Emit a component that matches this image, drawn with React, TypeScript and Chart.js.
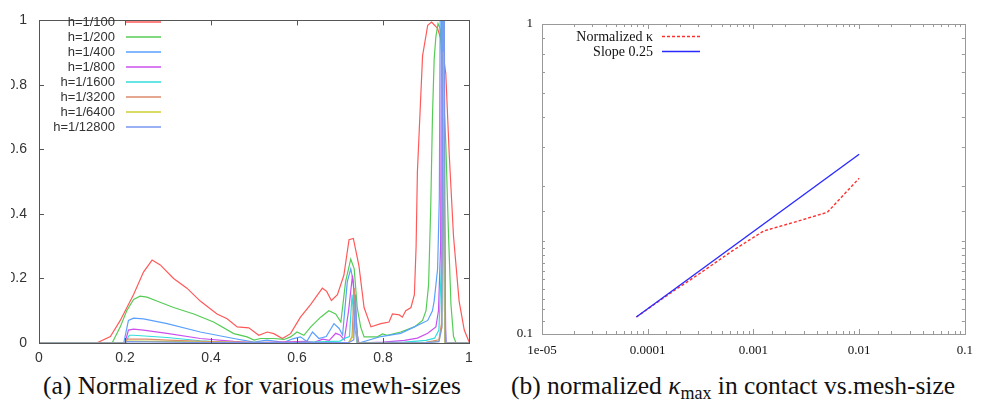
import React, { useEffect, useRef } from "react";
import { Chart, registerables } from "chart.js";
Chart.register(...registerables);

// ---------- Left chart data (normalized kappa along contact, various mesh sizes) ----------
const meshLabels = ["h=1/100", "h=1/200", "h=1/400", "h=1/800", "h=1/1600", "h=1/3200", "h=1/6400", "h=1/12800"];
const meshColors = ["#ff5a5a", "#55cc55", "#5aa0ff", "#cc50ee", "#33dddd", "#dd8a6a", "#cccc33", "#7a96f0"];
const leftTicks = [0, 0.2, 0.4, 0.6, 0.8, 1];

const h100X = [0, 0.134, 0.166, 0.189, 0.22, 0.243, 0.263, 0.282, 0.313, 0.344, 0.375, 0.414, 0.4375, 0.461, 0.488, 0.511, 0.531, 0.546, 0.566, 0.585, 0.608, 0.632, 0.659, 0.669, 0.68, 0.694, 0.709, 0.721, 0.731, 0.744, 0.756, 0.772, 0.795, 0.814, 0.822, 0.838, 0.845, 0.853, 0.865, 0.873, 0.877, 0.88, 0.892, 0.904, 0.913, 0.92, 0.927, 0.935, 0.946, 0.954, 0.964, 0.977, 0.989, 1.0];
const h100Y = [0, 0, 0.02, 0.07, 0.15, 0.22, 0.257, 0.242, 0.2, 0.17, 0.13, 0.09, 0.075, 0.05, 0.047, 0.024, 0.034, 0.029, 0.014, 0.029, 0.08, 0.12, 0.17, 0.16, 0.132, 0.15, 0.21, 0.32, 0.324, 0.24, 0.11, 0.05, 0.06, 0.065, 0.09, 0.087, 0.08, 0.1, 0.11, 0.15, 0.3, 0.53, 0.89, 0.985, 0.995, 0.985, 0.975, 0.94, 0.836, 0.585, 0.33, 0.13, 0.04, 0.004];

const h200X = [0, 0.17, 0.189, 0.204, 0.22, 0.235, 0.251, 0.274, 0.313, 0.36, 0.406, 0.453, 0.484, 0.5, 0.515, 0.546, 0.57, 0.585, 0.6, 0.616, 0.632, 0.655, 0.674, 0.69, 0.702, 0.713, 0.725, 0.733, 0.74, 0.748, 0.756, 0.787, 0.799, 0.81, 0.841, 0.873, 0.892, 0.9, 0.906, 0.911, 0.915, 0.919, 0.923, 0.928, 0.933, 0.94, 0.946, 0.952, 0.958, 0.964, 0.97, 1.0];
const h200Y = [0, 0, 0.05, 0.1, 0.135, 0.145, 0.142, 0.13, 0.11, 0.09, 0.065, 0.029, 0.019, 0.009, 0.014, 0.014, 0.011, 0.019, 0.034, 0.024, 0.05, 0.08, 0.1, 0.09, 0.065, 0.19, 0.26, 0.23, 0.11, 0.05, 0.019, 0.019, 0.028, 0.024, 0.034, 0.05, 0.07, 0.1, 0.18, 0.42, 0.7, 0.88, 0.95, 0.99, 0.975, 0.8, 0.62, 0.35, 0.12, 0.02, 0, 0];

const h400X = [0, 0.197, 0.208, 0.22, 0.243, 0.298, 0.375, 0.453, 0.5, 0.53, 0.57, 0.59, 0.608, 0.623, 0.636, 0.651, 0.668, 0.686, 0.698, 0.706, 0.717, 0.725, 0.731, 0.737, 0.744, 0.795, 0.841, 0.873, 0.904, 0.915, 0.919, 0.927, 0.931, 0.934, 0.937, 0.94, 0.943, 0.947, 1.0];
const h400Y = [0, 0, 0.07, 0.077, 0.075, 0.06, 0.034, 0.014, 0.003, 0.009, 0.002, 0.013, 0.019, 0.005, 0.034, 0.014, 0.02, 0.06, 0.045, 0.025, 0.19, 0.23, 0.19, 0.05, 0, 0.02, 0.03, 0.05, 0.07, 0.1, 0.13, 0.23, 0.45, 1.3, 1.3, 0.5, 0.1, 0, 0];

const h800X = [0, 0.2, 0.208, 0.22, 0.243, 0.298, 0.375, 0.453, 0.5, 0.6, 0.62, 0.64, 0.66, 0.675, 0.69, 0.7, 0.71, 0.72, 0.729, 0.735, 0.742, 0.8, 0.85, 0.88, 0.904, 0.923, 0.929, 0.934, 0.937, 0.94, 0.943, 0.946, 1.0];
const h800Y = [0, 0, 0.04, 0.043, 0.04, 0.03, 0.014, 0.005, 0.001, 0.004, 0.005, 0.002, 0.012, 0.008, 0.03, 0.025, 0.01, 0.1, 0.21, 0.12, 0, 0.003, 0.008, 0.015, 0.03, 0.05, 0.1, 0.3, 1.2, 1.2, 0.4, 0, 0];

const h1600X = [0, 0.2, 0.21, 0.22, 0.298, 0.375, 0.453, 0.6, 0.7, 0.712, 0.722, 0.728, 0.734, 0.74, 0.85, 0.9, 0.92, 0.93, 0.936, 0.938, 0.941, 0.944, 1.0];
const h1600Y = [0, 0, 0.024, 0.024, 0.017, 0.007, 0.001, 0.001, 0.006, 0.015, 0.02, 0.15, 0.05, 0, 0.003, 0.008, 0.015, 0.04, 0.25, 1.2, 1.2, 0, 0];

const h3200X = [0, 0.2, 0.205, 0.25, 0.3, 0.4, 0.5, 0.72, 0.728, 0.733, 0.738, 0.742, 0.9, 0.93, 0.936, 0.938, 0.941, 0.944, 1.0];
const h3200Y = [0, 0, 0.012, 0.012, 0.009, 0.004, 0.001, 0.001, 0.02, 0.17, 0.05, 0, 0.002, 0.01, 0.06, 0.7, 0.7, 0, 0];

const h6400X = [0, 0.2, 0.205, 0.3, 0.4, 0.72, 0.73, 0.735, 0.74, 0.9, 0.93, 0.937, 0.939, 0.941, 0.944, 1.0];
const h6400Y = [0, 0, 0.006, 0.005, 0.002, 0.001, 0.02, 0.12, 0, 0.001, 0.005, 0.05, 0.9, 0.9, 0, 0];

const h12800X = [0, 0.2, 0.205, 0.3, 0.4, 0.72, 0.732, 0.736, 0.74, 0.9, 0.93, 0.937, 0.94, 0.942, 0.945, 1.0];
const h12800Y = [0, 0, 0.004, 0.003, 0.001, 0.001, 0.01, 0.15, 0, 0.001, 0.004, 0.05, 1.3, 1.3, 0, 0];

const meshXs = [h100X, h200X, h400X, h800X, h1600X, h3200X, h6400X, h12800X];
const meshYs = [h100Y, h200Y, h400Y, h800Y, h1600Y, h3200Y, h6400Y, h12800Y];

// ---------- Right chart data (max normalized kappa vs mesh size) ----------
const meshSizes = [1 / 12800, 1 / 6400, 1 / 3200, 1 / 1600, 1 / 800, 1 / 400, 1 / 200, 1 / 100];
const kappaMax = [0.1135, 0.134, 0.157, 0.185, 0.215, 0.23, 0.247, 0.318];
const slopeX = [1 / 12800, 1 / 100];
const slopeY = [0.1135, 0.38];
const rightLegend = ["Normalized \u03ba", "Slope 0.25"];

const SERIF = "'Liberation Serif', 'Times New Roman', Times, serif";
const SANS = "'Liberation Sans', Arial, Helvetica, sans-serif";

const logLabel = (v: number): string => {
  const l = Math.log10(v);
  if (Math.abs(l - Math.round(l)) > 1e-6) return "";
  const r = Math.round(l);
  const map: Record<number, string> = { [-5]: "1e-05", [-4]: "0.0001", [-3]: "0.001", [-2]: "0.01", [-1]: "0.1", [0]: "1" };
  return map[r] ?? "";
};

const linLabel = (v: number): string => {
  const r = Math.round(v * 10) / 10;
  return leftTicks.some((t) => Math.abs(t - r) < 1e-9) ? String(r) : "";
};

function framePlugin(color: string, majorLen: number, minorLen: number, isLog: boolean) {
  return {
    id: "frameTicks",
    afterDatasetsDraw(chart: any) {
      const { ctx, chartArea: a, scales } = chart;
      ctx.save();
      ctx.strokeStyle = color;
      ctx.lineWidth = 1;
      ctx.beginPath();
      const xs = scales.x, ys = scales.y;
      for (const t of xs.ticks) {
        const major = !isLog || logLabel(t.value) !== "";
        const len = major ? majorLen : minorLen;
        const px = Math.round(xs.getPixelForValue(t.value)) + 0.5;
        ctx.moveTo(px, a.bottom); ctx.lineTo(px, a.bottom - len);
        ctx.moveTo(px, a.top); ctx.lineTo(px, a.top + len);
      }
      for (const t of ys.ticks) {
        const major = !isLog || logLabel(t.value) !== "";
        const len = major ? majorLen : minorLen;
        const py = Math.round(ys.getPixelForValue(t.value)) + 0.5;
        ctx.moveTo(a.left, py); ctx.lineTo(a.left + len, py);
        ctx.moveTo(a.right, py); ctx.lineTo(a.right - len, py);
      }
      ctx.stroke();
      ctx.strokeRect(Math.round(a.left) + 0.5, Math.round(a.top) + 0.5, Math.round(a.right - a.left), Math.round(a.bottom - a.top));
      ctx.restore();
    },
  };
}

function LeftChart() {
  const ref = useRef<HTMLCanvasElement>(null);
  useEffect(() => {
    const datasets = meshLabels.map((lab, i) => ({
      label: lab,
      data: meshXs[i].map((x, j) => ({ x, y: meshYs[i][j] })),
      borderColor: meshColors[i],
      borderWidth: 1.2,
      pointRadius: 0,
      tension: 0,
      order: meshLabels.length - i,
    }));
    const legendPlugin = {
      id: "leftLegend",
      afterDraw(chart: any) {
        const ctx = chart.ctx;
        ctx.save();
        ctx.font = "13px " + SANS;
        ctx.textAlign = "right";
        ctx.textBaseline = "middle";
        chart.data.datasets.forEach((d: any, i: number) => {
          const y = 21.5 + 15 * i;
          ctx.fillStyle = "#333";
          ctx.fillText(d.label, 124, y + 1);
          ctx.strokeStyle = d.borderColor;
          ctx.lineWidth = 1.5;
          ctx.beginPath();
          ctx.moveTo(135, y + 0.5);
          ctx.lineTo(170, y + 0.5);
          ctx.stroke();
        });
        ctx.restore();
      },
    };
    const chart = new Chart(ref.current!, {
      type: "line",
      data: { datasets },
      options: {
        animation: false,
        responsive: false,
        devicePixelRatio: 1,
        events: [],
        layout: { padding: { top: 12, right: 13, left: 0, bottom: 0 } },
        plugins: { legend: { display: false }, tooltip: { enabled: false } },
        scales: {
          x: {
            type: "linear", min: 0, max: 1,
            grid: { display: false, drawTicks: false },
            border: { display: false },
            ticks: { stepSize: 0.2, padding: 7, color: "#333", font: { family: SANS, size: 14 }, maxRotation: 0, callback: (v: any) => linLabel(Number(v)) },
            afterFit: (s: any) => { s.height = 27; },
          },
          y: {
            type: "linear", min: 0, max: 1,
            grid: { display: false, drawTicks: false },
            border: { display: false },
            ticks: { stepSize: 0.2, padding: 12, color: "#333", font: { family: SANS, size: 14 }, callback: (v: any) => linLabel(Number(v)) },
            afterFit: (s: any) => { s.width = 48; },
          },
        },
      },
      plugins: [framePlugin("#555", 5, 5, false), legendPlugin],
    } as any);
    return () => chart.destroy();
  }, []);
  return (
    <canvas ref={ref} width={491} height={370}
      style={{ position: "absolute", left: -20, top: 0, width: 491, height: 370 }} />
  );
}

function RightChart() {
  const ref = useRef<HTMLCanvasElement>(null);
  useEffect(() => {
    const legendPlugin = {
      id: "rightLegend",
      afterDraw(chart: any) {
        const ctx = chart.ctx;
        ctx.save();
        ctx.font = "14px " + SERIF;
        ctx.textAlign = "right";
        ctx.textBaseline = "middle";
        chart.data.datasets.forEach((d: any, i: number) => {
          const y = 36 + 15 * i;
          ctx.fillStyle = "#111";
          ctx.fillText(d.label, 163, y + 1);
          ctx.strokeStyle = d.borderColor;
          ctx.lineWidth = 1.3;
          ctx.setLineDash(d.borderDash || []);
          ctx.beginPath();
          ctx.moveTo(172, y + 0.5);
          ctx.lineTo(210, y + 0.5);
          ctx.stroke();
        });
        ctx.restore();
      },
    };
    const chart = new Chart(ref.current!, {
      type: "line",
      data: {
        datasets: [
          {
            label: rightLegend[0],
            data: meshSizes.map((x, i) => ({ x, y: kappaMax[i] })),
            borderColor: "#ff3030",
            borderDash: [3, 2],
            borderWidth: 1.4,
            pointRadius: 0,
            tension: 0,
            order: 2,
          },
          {
            label: rightLegend[1],
            data: slopeX.map((x, i) => ({ x, y: slopeY[i] })),
            borderColor: "#2a2aff",
            borderWidth: 1.4,
            pointRadius: 0,
            tension: 0,
            order: 1,
          },
        ],
      },
      options: {
        animation: false,
        responsive: false,
        devicePixelRatio: 1,
        events: [],
        layout: { padding: { top: 24, right: 10, left: 0, bottom: 0 } },
        plugins: { legend: { display: false }, tooltip: { enabled: false } },
        scales: {
          x: {
            type: "logarithmic", min: 1e-5, max: 0.1,
            grid: { display: false, drawTicks: false },
            border: { display: false },
            ticks: {
              autoSkip: false, maxRotation: 0, padding: 9, color: "#111",
              font: { family: SERIF, size: 13 },
              callback: (v: any) => logLabel(Number(v)),
            },
            afterFit: (s: any) => { s.height = 36; },
          },
          y: {
            type: "logarithmic", min: 0.1, max: 1,
            grid: { display: false, drawTicks: false },
            border: { display: false },
            ticks: {
              autoSkip: false, padding: 9, color: "#111",
              font: { family: SERIF, size: 13 },
              callback: (v: any) => logLabel(Number(v)),
            },
            afterFit: (s: any) => { s.width = 52; },
          },
        },
      },
      plugins: [framePlugin("#999", 5, 3, true), legendPlugin],
    } as any);
    return () => chart.destroy();
  }, []);
  return (
    <canvas ref={ref} width={492} height={370}
      style={{ position: "absolute", left: 0, top: 0, width: 492, height: 370 }} />
  );
}

const capStyle: React.CSSProperties = {
  position: "absolute",
  top: 371,
  fontFamily: "'Liberation Serif', 'Times New Roman', serif",
  fontSize: 25.5,
  color: "#111",
  whiteSpace: "nowrap",
  lineHeight: "30px",
};

export default function App() {
  return (
    <div style={{ position: "absolute", left: 0, top: 0, width: 982, height: 405, overflow: "hidden", background: "#fff" }}>
      <div style={{ position: "absolute", left: 11, top: 0, width: 471, height: 370, overflow: "hidden" }}>
        <div style={{ position: "absolute", left: 0, top: 0 }}>
          <LeftChart />
        </div>
      </div>
      <div style={{ position: "absolute", left: 490, top: 0, width: 492, height: 370, overflow: "hidden" }}>
        <RightChart />
      </div>
      <div style={{ ...capStyle, left: 43 }}>
        (a) Normalized <i>κ</i> for various mewh-sizes
      </div>
      <div style={{ ...capStyle, left: 511 }}>
        (b) normalized <i>κ</i><sub style={{ fontSize: 18, verticalAlign: "-5px" }}>max</sub> in contact vs.mesh-size
      </div>
    </div>
  );
}
